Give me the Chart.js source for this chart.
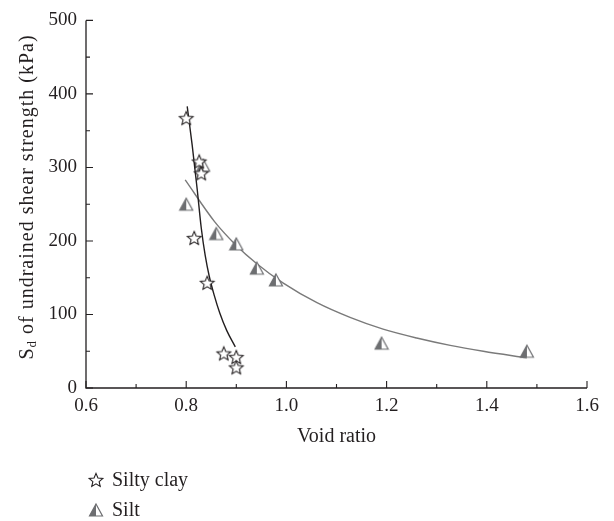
<!DOCTYPE html>
<html>
<head>
<meta charset="utf-8">
<script src="https://cdn.jsdelivr.net/npm/chart.js@4.4.0/dist/chart.umd.min.js"></script>
<style>
html, body { margin: 0; padding: 0; background: #fff; }
</style>
</head>
<body>
<canvas id="myChart" width="614" height="521"></canvas>
<script>

/******************** Data ********************/

var clayX = [0.80, 0.826, 0.83, 0.816, 0.842, 0.875, 0.90, 0.90];
var clayY = [367, 308, 292, 204, 143, 47, 42, 28];

var siltX = [0.80, 0.834, 0.86, 0.90, 0.941, 0.979, 1.19, 1.48];
var siltY = [250, 303, 210, 196, 163, 147, 61, 50];

// fitted curves
var clayFitX = [0.802, 0.812, 0.822, 0.83, 0.838, 0.846, 0.856, 0.867, 0.881, 0.898];
var clayFitY = [383, 330, 270, 218, 180, 152, 126, 102, 78, 56];

var siltFitX = [0.798, 0.857, 0.897, 0.941, 0.993, 1.061, 1.127, 1.193, 1.26, 1.327, 1.393, 1.48];
var siltFitY = [283, 226, 196, 169, 143, 116, 96, 80, 68, 58, 50, 41];

var legendLabels = ["Silty clay", "Silt"];
var xTitle = "Void ratio";
var yTitle = ["S", "d", " of undrained shear strength (kPa)"];

var ink = "#231f20";
var grey = "#6d6e71";
var serif = "'Liberation Serif', 'DejaVu Serif', serif";

function pts(xs, ys) {
  return xs.map(function(x, i) { return {x: x, y: ys[i]}; });
}

/******************** Marker images ********************/

function makeStar() {
  var c = document.createElement("canvas");
  c.width = 18; c.height = 18;
  var g = c.getContext("2d");
  g.beginPath();
  for (var i = 0; i < 10; i++) {
    var r = i % 2 === 0 ? 7.2 : 3.3;
    var a = -Math.PI / 2 + i * Math.PI / 5;
    var px = 9 + r * Math.cos(a), py = 9.6 + r * Math.sin(a);
    if (i === 0) g.moveTo(px, py); else g.lineTo(px, py);
  }
  g.closePath();
  g.fillStyle = "#fff";
  g.fill();
  g.strokeStyle = ink;
  g.lineWidth = 1.1;
  g.stroke();
  return c;
}

function makeTri() {
  var c = document.createElement("canvas");
  c.width = 16; c.height = 16;
  var g = c.getContext("2d");
  g.fillStyle = "#fff";
  g.beginPath(); g.moveTo(8, 2); g.lineTo(14.5, 14); g.lineTo(1.5, 14); g.closePath(); g.fill();
  g.fillStyle = grey;
  g.beginPath(); g.moveTo(8, 2); g.lineTo(8, 14); g.lineTo(1.5, 14); g.closePath(); g.fill();
  g.strokeStyle = grey;
  g.lineWidth = 1.2;
  g.beginPath(); g.moveTo(8, 2); g.lineTo(14.5, 14); g.lineTo(1.5, 14); g.closePath(); g.stroke();
  return c;
}

var starImg = makeStar();
var triImg = makeTri();

/******************** Axes, titles, legend ********************/

var decor = {
  id: "decor",
  afterDraw: function(chart) {
    var ctx = chart.ctx, a = chart.chartArea;
    var xs = chart.scales.x, ys = chart.scales.y;
    ctx.save();
    ctx.strokeStyle = ink;
    ctx.lineWidth = 1.3;
    ctx.beginPath();
    ctx.moveTo(a.left, a.top);
    ctx.lineTo(a.left, a.bottom);
    ctx.lineTo(a.right, a.bottom);
    ctx.stroke();

    // inward ticks, major and minor
    ctx.lineWidth = 1.1;
    ctx.beginPath();
    xs.ticks.forEach(function(t, i) {
      var p = xs.getPixelForValue(t.value);
      ctx.moveTo(p, a.bottom); ctx.lineTo(p, a.bottom - 7);
      if (i < xs.ticks.length - 1) {
        var m = xs.getPixelForValue((t.value + xs.ticks[i + 1].value) / 2);
        ctx.moveTo(m, a.bottom); ctx.lineTo(m, a.bottom - 4);
      }
    });
    ys.ticks.forEach(function(t, i) {
      var p = ys.getPixelForValue(t.value);
      ctx.moveTo(a.left, p); ctx.lineTo(a.left + 7, p);
      if (i < ys.ticks.length - 1) {
        var m = ys.getPixelForValue((t.value + ys.ticks[i + 1].value) / 2);
        ctx.moveTo(a.left, m); ctx.lineTo(a.left + 4, m);
      }
    });
    ctx.stroke();

    ctx.fillStyle = ink;
    ctx.textBaseline = "middle";

    // x title
    ctx.font = "20px " + serif;
    ctx.textAlign = "center";
    ctx.fillText(xTitle, (a.left + a.right) / 2, 437);

    // y title with subscript
    ctx.save();
    ctx.translate(28, 197);
    ctx.rotate(-Math.PI / 2);
    ctx.textAlign = "left";
    ctx.letterSpacing = "1px";
    var big = "20px " + serif, small = "13px " + serif;
    ctx.font = big; var w0 = ctx.measureText(yTitle[0]).width;
    ctx.font = small; var w1 = ctx.measureText(yTitle[1]).width;
    ctx.font = big; var w2 = ctx.measureText(yTitle[2]).width;
    var sx = -(w0 + w1 + w2) / 2;
    ctx.font = big; ctx.fillText(yTitle[0], sx, 0);
    ctx.font = small; ctx.fillText(yTitle[1], sx + w0, 5);
    ctx.font = big; ctx.fillText(yTitle[2], sx + w0 + w1, 0);
    ctx.restore();

    // legend
    ctx.font = "20px " + serif;
    ctx.textAlign = "left";
    ctx.drawImage(starImg, 96 - 9, 481 - 10);
    ctx.fillText(legendLabels[0], 112, 481);
    ctx.drawImage(triImg, 96 - 8, 511 - 9);
    ctx.fillText(legendLabels[1], 112, 511);
    ctx.restore();
  }
};

/******************** Chart ********************/

new Chart("myChart", {
  type: "scatter",
  data: {
    datasets: [
      {
        label: legendLabels[0],
        data: pts(clayX, clayY),
        pointStyle: starImg,
        order: 0
      },
      {
        label: legendLabels[1],
        data: pts(siltX, siltY),
        pointStyle: triImg,
        order: 1
      },
      {
        label: "Silty clay fit",
        data: pts(clayFitX, clayFitY),
        showLine: true,
        pointRadius: 0,
        borderColor: ink,
        borderWidth: 1.4,
        cubicInterpolationMode: "monotone",
        order: 2
      },
      {
        label: "Silt fit",
        data: pts(siltFitX, siltFitY),
        showLine: true,
        pointRadius: 0,
        borderColor: "#7a7a7a",
        borderWidth: 1.4,
        cubicInterpolationMode: "monotone",
        order: 3
      }
    ]
  },
  options: {
    responsive: false,
    animation: false,
    events: [],
    layout: {padding: {left: 0, right: 27, top: 15, bottom: 0}},
    plugins: {
      legend: {display: false},
      tooltip: {enabled: false}
    },
    scales: {
      x: {
        min: 0.6,
        max: 1.6,
        grid: {display: false, drawTicks: false},
        border: {display: false},
        ticks: {
          stepSize: 0.2,
          padding: 7,
          color: ink,
          font: {family: serif, size: 19},
          callback: function(v) { return v.toFixed(1); }
        },
        afterFit: function(s) { s.height = 133; }
      },
      y: {
        min: 0,
        max: 500,
        grid: {display: false, drawTicks: false},
        border: {display: false},
        ticks: {
          stepSize: 100,
          padding: 9,
          color: ink,
          font: {family: serif, size: 19}
        },
        afterFit: function(s) { s.width = 86; }
      }
    }
  },
  plugins: [decor]
});
</script>
</body>
</html>
